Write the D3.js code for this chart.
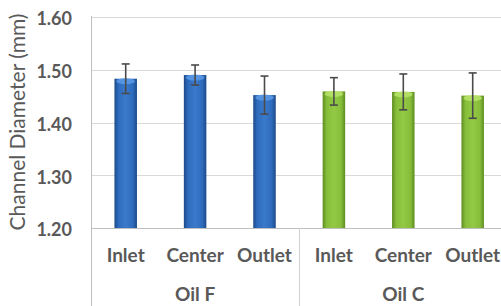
<!DOCTYPE html>
<html>
<head>
<meta charset="utf-8">
<script src="https://cdn.jsdelivr.net/npm/d3@7"></script>
<style>
  body { margin: 0; background: #fff; }
  svg { display: block; }
</style>
</head>
<body>
<div id="chart"></div>
<script>
// data
var groups = ["Oil F", "Oil C"];
var positions = ["Inlet", "Center", "Outlet"];
var oilF = [1.483, 1.490, 1.452];
var oilC = [1.459, 1.458, 1.451];
var oilFErr = [0.028, 0.019, 0.036];
var oilCErr = [0.026, 0.034, 0.043];
var yTicks = [1.20, 1.30, 1.40, 1.50, 1.60];

var width = 501, height = 306;
var plotLeft = 91, plotTop = 17, plotBottom = 228, step = 69.4;
var font = "Lato, 'Open Sans', sans-serif";

var rows = [];
groups.forEach(function (g, gi) {
	var vals = gi == 0 ? oilF : oilC;
	var errs = gi == 0 ? oilFErr : oilCErr;
	positions.forEach(function (p, pi) {
		rows.push({ group: g, gi: gi, pos: p, key: g + "|" + p, value: vals[pi], err: errs[pi] });
	});
});

var svg = d3.select("#chart").append("svg")
	.attr("width", width)
	.attr("height", height);

var x = d3.scaleBand()
	.domain(rows.map(function (d) { return d.key; }))
	.range([plotLeft, plotLeft + step * rows.length])
	.padding(0);

var y = d3.scaleLinear()
	.domain([1.2, 1.6])
	.range([plotBottom, plotTop]);

//gradients for the bevelled bars
var defs = svg.append("defs");
function makeGrad(id, edge, mid, light) {
	var g = defs.append("linearGradient").attr("id", id)
		.attr("x1", "0%").attr("x2", "100%").attr("y1", "0%").attr("y2", "0%");
	g.append("stop").attr("offset", "0%").attr("stop-color", edge);
	g.append("stop").attr("offset", "18%").attr("stop-color", mid);
	g.append("stop").attr("offset", "50%").attr("stop-color", light);
	g.append("stop").attr("offset", "82%").attr("stop-color", mid);
	g.append("stop").attr("offset", "100%").attr("stop-color", edge);
}
makeGrad("gBlue", "#1c4a88", "#2e6bbd", "#3a7acb");
makeGrad("gGreen", "#5f8c22", "#86bd3a", "#93c944");
var capColors = ["#5a9ae6", "#b9e46a"];

//gridlines
svg.append("g")
	.selectAll("line")
	.data(yTicks.slice(1))
	.join("line")
	.attr("x1", plotLeft).attr("x2", width)
	.attr("y1", function (d) { return Math.round(y(d)) + 0.5; })
	.attr("y2", function (d) { return Math.round(y(d)) + 0.5; })
	.attr("stroke", "#d9d9d9")
	.attr("stroke-width", 1);

//y axis tick labels
var yAxis = d3.axisLeft(y).tickValues(yTicks).tickFormat(d3.format(".2f")).tickSize(0).tickPadding(19);
var yg = svg.append("g").attr("transform", "translate(" + plotLeft + ",2)").call(yAxis);
yg.select(".domain").remove();
yg.selectAll("text")
	.attr("fill", "#595959")
	.style("font-family", font)
	.style("font-weight", "bold")
	.style("font-size", "18px");

//axis title
svg.append("text")
	.attr("transform", "translate(25,122) rotate(-90)")
	.attr("text-anchor", "middle")
	.attr("fill", "#595959")
	.style("font-family", font)
	.style("font-size", "21px")
	.text("Channel Diameter (mm)");

//bars
var barW = 22.5;
var bars = svg.append("g");
bars.selectAll("rect.bar")
	.data(rows)
	.join("rect")
	.attr("class", "bar")
	.attr("x", function (d) { return x(d.key) + x.bandwidth() / 2 - barW / 2; })
	.attr("width", barW)
	.attr("y", function (d) { return y(d.value); })
	.attr("height", function (d) { return y(1.2) - y(d.value); })
	.attr("fill", function (d) { return d.gi == 0 ? "url(#gBlue)" : "url(#gGreen)"; });

//light top cap
bars.selectAll("ellipse")
	.data(rows)
	.join("ellipse")
	.attr("cx", function (d) { return x(d.key) + x.bandwidth() / 2; })
	.attr("cy", function (d) { return y(d.value) + 2.5; })
	.attr("rx", barW / 2 - 2)
	.attr("ry", 3)
	.attr("fill", function (d) { return capColors[d.gi]; })
	.attr("opacity", 0.85);

//error bars
var eb = svg.append("g").attr("stroke", "#4a4a4a").attr("stroke-width", 1.6);
rows.forEach(function (d) {
	var cx = x(d.key) + x.bandwidth() / 2;
	eb.append("line").attr("x1", cx).attr("x2", cx)
		.attr("y1", y(d.value + d.err)).attr("y2", y(d.value - d.err));
	eb.append("line").attr("x1", cx - 4).attr("x2", cx + 4)
		.attr("y1", y(d.value + d.err)).attr("y2", y(d.value + d.err));
	eb.append("line").attr("x1", cx - 4).attr("x2", cx + 4)
		.attr("y1", y(d.value - d.err)).attr("y2", y(d.value - d.err));
});

//axis lines
svg.append("line")
	.attr("x1", plotLeft).attr("x2", width)
	.attr("y1", Math.round(y(1.2)) + 0.5).attr("y2", Math.round(y(1.2)) + 0.5)
	.attr("stroke", "#bfbfbf");
svg.append("line")
	.attr("x1", plotLeft + 0.5).attr("x2", plotLeft + 0.5)
	.attr("y1", plotTop - 1).attr("y2", height)
	.attr("stroke", "#bfbfbf");

//group dividers
groups.forEach(function (g, gi) {
	if (gi == 0) return;
	var gx = Math.round(x(g + "|" + positions[0])) + 0.5;
	svg.append("line")
		.attr("x1", gx).attr("x2", gx)
		.attr("y1", y(1.2)).attr("y2", height)
		.attr("stroke", "#d0d0d0");
});

//category labels
svg.append("g")
	.selectAll("text")
	.data(rows)
	.join("text")
	.attr("x", function (d) { return x(d.key) + x.bandwidth() / 2; })
	.attr("y", 262)
	.attr("text-anchor", "middle")
	.attr("fill", "#595959")
	.style("font-family", font)
	.style("font-weight", "bold")
	.style("font-size", "19px")
	.text(function (d) { return d.pos; });

//group labels
svg.append("g")
	.selectAll("text")
	.data(groups)
	.join("text")
	.attr("x", function (g) { return x(g + "|" + positions[1]) + x.bandwidth() / 2; })
	.attr("y", 301)
	.attr("text-anchor", "middle")
	.attr("fill", "#595959")
	.style("font-family", font)
	.style("font-weight", "bold")
	.style("font-size", "19px")
	.text(function (g) { return g; });
</script>
</body>
</html>
